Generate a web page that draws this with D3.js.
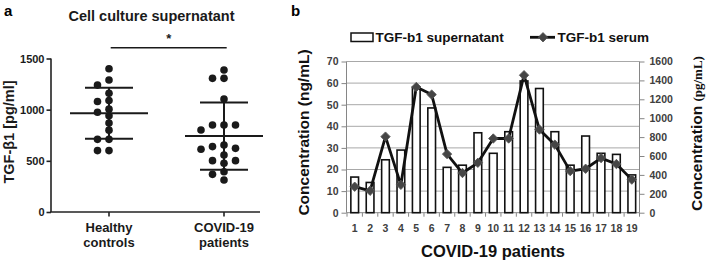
<!DOCTYPE html>
<html><head><meta charset="utf-8">
<script src="https://cdn.jsdelivr.net/npm/d3@7"></script>
<style>
body{margin:0;background:#fff}
svg{display:block}
text{font-family:"Liberation Sans",Arial,sans-serif}
</style>
</head><body>
<svg id="c" width="708" height="263"></svg>
<script>
// ---------- Panel a data ----------
const groups = ["Healthy controls", "COVID-19 patients"];
const healthyValues = [1400,1290,1240,1160,1090,1080,1005,975,940,870,800,710,710,600,600];
const covidValues = [1388,1306,1306,1104,850,850,850,801,655,639,622,613,557,502,502,476,394,368,313];
const panelATicks = [0,500,1000,1500];
const panelATitle = "Cell culture supernatant";
const panelAYLabel = "TGF-\u03B21 [pg/ml]";

// ---------- Panel b data ----------
const patients = ["1","2","3","4","5","6","7","8","9","10","11","12","13","14","15","16","17","18","19"];
const supernatant = [16.5,14,24.5,29,58,48.5,21,22,37,27.5,37.5,61,57.5,37.5,22,35.5,27.5,27,17.5];
const serum = [275,232,805,295,1330,1250,620,420,528,785,785,1455,880,720,440,465,578,515,350];
const leftTicks = [0,10,20,30,40,50,60,70];
const rightTicks = [0,200,400,600,800,1000,1200,1400,1600];
const legendLabels = ["TGF-b1 supernatant","TGF-b1 serum"];

const svg = d3.select("#c");

// ================= PANEL A =================
const a = svg.append("g");
const yA = d3.scaleLinear().domain([0,1500]).range([212,58.5]);
const xA = d3.scalePoint().domain(groups).range([109,224]);
const axX0 = 51, axX1 = 260;

a.append("text").attr("x",4).attr("y",16).attr("font-size",15).attr("font-weight","bold").text("a");
a.append("text").attr("x",151.5).attr("y",20.5).attr("text-anchor","middle")
  .attr("font-size",14.5).attr("font-weight","bold").attr("fill","#1a1a1a").text(panelATitle);

// y axis
const yAxA = a.append("g").attr("transform",`translate(${axX0},0)`)
  .call(d3.axisLeft(yA).tickValues(panelATicks).tickSize(4.5).tickPadding(2).tickFormat(d3.format("d")));
yAxA.select(".domain").attr("stroke","#222").attr("stroke-width",1.6).attr("d",`M0,${yA(1500)}V${yA(0)}`);
yAxA.selectAll(".tick line").attr("stroke","#222").attr("stroke-width",1.6);
yAxA.selectAll(".tick text").attr("font-size",11).attr("font-weight","bold").attr("fill","#1a1a1a")
  .attr("font-family","Liberation Sans, Arial, sans-serif");

// x axis line + ticks
a.append("line").attr("x1",axX0-0.8).attr("x2",axX1).attr("y1",yA(0)).attr("y2",yA(0))
  .attr("stroke","#222").attr("stroke-width",1.6);
groups.forEach(g=>{
  a.append("line").attr("x1",xA(g)).attr("x2",xA(g)).attr("y1",yA(0)).attr("y2",yA(0)+4.5)
    .attr("stroke","#222").attr("stroke-width",1.6);
  const parts = g.split(" ");
  const t = a.append("text").attr("text-anchor","middle").attr("font-size",13).attr("font-weight","bold").attr("fill","#1a1a1a");
  t.append("tspan").attr("x",xA(g)).attr("y",232).text(parts[0]);
  t.append("tspan").attr("x",xA(g)).attr("y",247).text(parts.slice(1).join(" "));
});

// y label
a.append("text").attr("transform","translate(14,132) rotate(-90)").attr("text-anchor","middle")
  .attr("font-size",14.5).attr("font-weight","bold").attr("fill","#1a1a1a").text(panelAYLabel);

// swarm placement
function swarm(values, cx, step, minDy){
  const pts = values.map(v=>({v, y:yA(v)})).sort((p,q)=>p.y-q.y);
  const placed = [];
  pts.forEach(p=>{
    for (const s of [0,-1,1,-2,2,-3,3]) {
      if (!placed.some(q=>q.s===s && Math.abs(q.y-p.y)<minDy)) { p.s = s; break; }
    }
    placed.push(p);
  });
  return placed.map(p=>({v:p.v, y:p.y, x:cx + p.s*step}));
}

[[groups[0],healthyValues],[groups[1],covidValues]].forEach(([g,vals])=>{
  const cx = xA(g);
  const m = d3.mean(vals), sd = d3.deviation(vals);
  const pts = swarm(vals, cx, 11.5, 6.6);
  a.append("g").selectAll("circle").data(pts).join("circle")
    .attr("cx",d=>d.x).attr("cy",d=>d.y).attr("r",3.8).attr("fill","#1a1a1a");
  const st = {stroke:"#1a1a1a","stroke-width":2};
  const ln = (x1,y1,x2,y2)=>{const l=a.append("line").attr("x1",x1).attr("y1",y1).attr("x2",x2).attr("y2",y2);Object.entries(st).forEach(([k,v])=>l.attr(k,v));};
  ln(cx-39, yA(m), Math.min(cx+39, axX1+3), yA(m));
  ln(cx-24, yA(m+sd), cx+24, yA(m+sd));
  ln(cx-24, yA(m-sd), cx+24, yA(m-sd));
  ln(cx, yA(m+sd), cx, yA(m-sd));
});

// significance
a.append("line").attr("x1",110.7).attr("x2",226.7).attr("y1",47.7).attr("y2",47.7)
  .attr("stroke","#1a1a1a").attr("stroke-width",1.5);
a.append("text").attr("x",(110.7+226.7)/2).attr("y",43).attr("text-anchor","middle")
  .attr("font-size",13).attr("font-weight","bold").attr("fill","#1a1a1a").text("*");

// ================= PANEL B =================
const b = svg.append("g");
const x0 = 346.5, x1 = 639.5, yBot = 212.7, yTop = 61.5;
const xB = d3.scaleBand().domain(patients).range([x0+0.5,x1]).paddingInner(0.5).paddingOuter(0.25);
const yL = d3.scaleLinear().domain([0,70]).range([yBot,yTop]);
const yR = d3.scaleLinear().domain([0,1600]).range([yBot,yTop]);
const gray = "#868686", tickCol = "#404040";

b.append("text").attr("x",291).attr("y",16).attr("font-size",15).attr("font-weight","bold").text("b");

// gridlines
b.append("g").selectAll("line").data(leftTicks.filter(d=>d>0)).join("line")
  .attr("x1",x0).attr("x2",x1).attr("y1",d=>yL(d)).attr("y2",d=>yL(d))
  .attr("stroke","#a8a8a8").attr("stroke-width",1);

// left axis
const la = b.append("g").attr("transform",`translate(${x0},0)`)
  .call(d3.axisLeft(yL).tickValues(leftTicks).tickSize(5).tickPadding(3).tickFormat(d3.format("d")));
la.select(".domain").attr("stroke",gray).attr("d",`M0,${yTop}V${yBot}`);
la.selectAll(".tick line").attr("stroke",gray);
la.selectAll(".tick text").attr("font-size",10.5).attr("font-weight","bold").attr("fill",tickCol)
  .attr("font-family","Liberation Sans, Arial, sans-serif");

// right axis
const ra = b.append("g").attr("transform",`translate(${x1},0)`)
  .call(d3.axisRight(yR).tickValues(rightTicks).tickSize(5).tickPadding(5).tickFormat(d3.format("d")));
ra.select(".domain").attr("stroke",gray).attr("d",`M0,${yTop}V${yBot}`);
ra.selectAll(".tick line").attr("stroke",gray);
ra.selectAll(".tick text").attr("font-size",10.5).attr("font-weight","bold").attr("fill",tickCol)
  .attr("font-family","Liberation Sans, Arial, sans-serif");

// bottom axis
b.append("line").attr("x1",x0).attr("x2",x1).attr("y1",yBot).attr("y2",yBot).attr("stroke",gray);
const step = xB.step();
const bounds = d3.range(patients.length+1).map(i=>x0+0.5+i*step);
b.append("g").selectAll("line").data(bounds).join("line")
  .attr("x1",d=>d).attr("x2",d=>d).attr("y1",yBot).attr("y2",yBot+4).attr("stroke",gray);
b.append("g").selectAll("text").data(patients).join("text")
  .attr("x",d=>xB(d)+xB.bandwidth()/2).attr("y",232).attr("text-anchor","middle")
  .attr("font-size",10.5).attr("font-weight","bold").attr("fill",tickCol).text(d=>d);

// bars
b.append("g").selectAll("rect").data(patients).join("rect")
  .attr("x",d=>xB(d)).attr("width",xB.bandwidth())
  .attr("y",(d,i)=>yL(supernatant[i])).attr("height",(d,i)=>yBot-yL(supernatant[i]))
  .attr("fill","#fff").attr("stroke","#111").attr("stroke-width",1.6);

// line
const cxB = d=>xB(d)+xB.bandwidth()/2;
b.append("path").datum(patients).attr("fill","none").attr("stroke","#111").attr("stroke-width",2.8)
  .attr("stroke-linejoin","round")
  .attr("d",d3.line().x(d=>cxB(d)).y((d,i)=>yR(serum[i])));
const diamond = d3.symbol(d3.symbolSquare, 44)();
b.append("g").selectAll("path").data(patients).join("path")
  .attr("d",diamond).attr("transform",(d,i)=>`translate(${cxB(d)},${yR(serum[i])}) rotate(45)`)
  .attr("fill","#454545").attr("stroke","#555").attr("stroke-width",0.8);

// axis titles
b.append("text").attr("transform","translate(309,132.5) rotate(-90)").attr("text-anchor","middle")
  .attr("font-size",15.5).attr("font-weight","bold").attr("fill","#111").text("Concentration (ng/mL)");
const rt = b.append("text").attr("transform","translate(702,133.5) rotate(-90)").attr("text-anchor","middle")
  .attr("font-weight","bold").attr("fill","#111");
rt.append("tspan").attr("font-size",15.5).text("Concentration ");
rt.append("tspan").attr("font-size",13).attr("font-family","Liberation Serif, Times New Roman, serif").text("(pg/mL)");
b.append("text").attr("x",493).attr("y",257).attr("text-anchor","middle")
  .attr("font-size",16.5).attr("font-weight","bold").attr("fill","#111").text("COVID-19 patients");

// legend
b.append("rect").attr("x",351).attr("y",33).attr("width",22).attr("height",8.5)
  .attr("fill","#fff").attr("stroke","#111").attr("stroke-width",1.5);
b.append("text").attr("x",375.5).attr("y",42).attr("font-size",13.5).attr("font-weight","bold").attr("fill","#111").text(legendLabels[0]);
b.append("line").attr("x1",530).attr("x2",555).attr("y1",37.3).attr("y2",37.3).attr("stroke","#111").attr("stroke-width",2.8);
b.append("path").attr("d",diamond).attr("transform","translate(543,37.3) rotate(45)")
  .attr("fill","#454545").attr("stroke","#555").attr("stroke-width",0.8);
b.append("text").attr("x",557.5).attr("y",42).attr("font-size",13.5).attr("font-weight","bold").attr("fill","#111").text(legendLabels[1]);
</script>
</body></html>
